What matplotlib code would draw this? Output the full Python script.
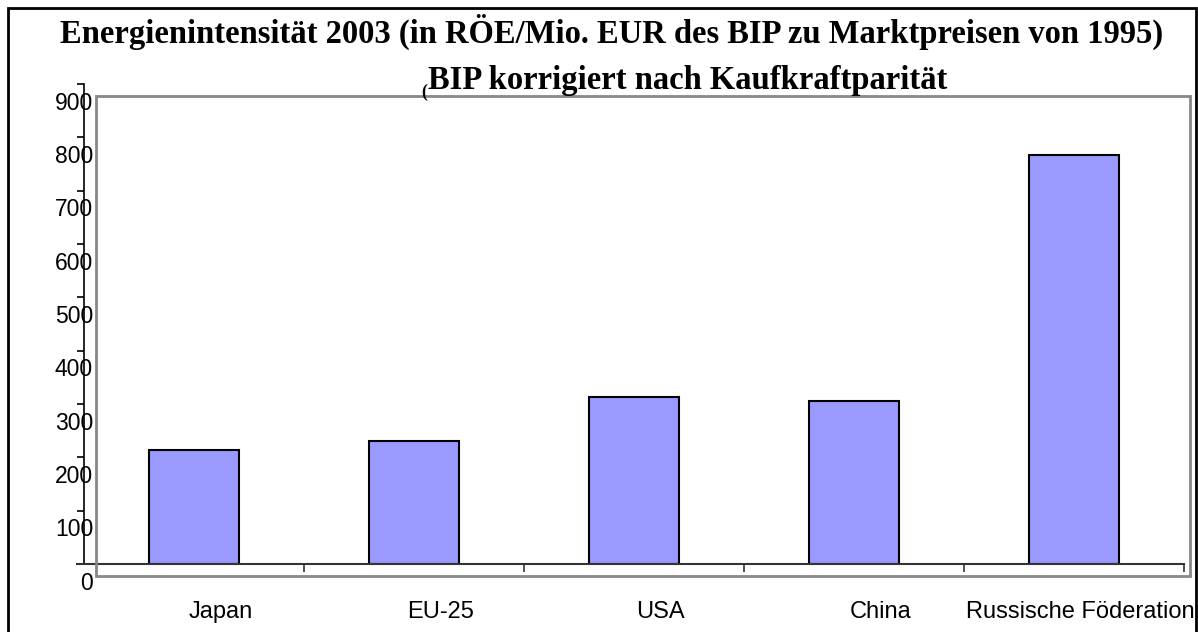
import matplotlib
matplotlib.use("Agg")
import matplotlib.pyplot as plt
from matplotlib.patches import Rectangle
from matplotlib.transforms import ScaledTranslation

# data
countries = ["Japan", "EU-25", "USA", "China", "Russische Föderation"]
intensity = [214, 231, 313, 306, 766]
yticks = [0, 100, 200, 300, 400, 500, 600, 700, 800, 900]

W, H = 1198, 632
fig = plt.figure(figsize=(W / 100, H / 100), dpi=100)

def fx(px):
    return px / W

def fy(py):
    return 1 - py / H

# outer frame and grey plot box
fig.patches.append(Rectangle((fx(8), fy(650)), fx(1196) - fx(8), fy(8) - fy(650),
                             transform=fig.transFigure, fill=False,
                             edgecolor="black", lw=2, zorder=0))
fig.patches.append(Rectangle((fx(96), fy(576)), fx(1190) - fx(96), fy(96) - fy(576),
                             transform=fig.transFigure, fill=False,
                             edgecolor="#888888", lw=2, zorder=0))

ax = fig.add_axes([fx(84), fy(564), fx(1184) - fx(84), fy(84) - fy(564)])
ax.patch.set_alpha(0)

pos = range(len(countries))
ax.bar([p + 0.5 for p in pos], intensity, width=0.405, color="#9999ff",
       edgecolor="black", linewidth=1.5, zorder=3)

ax.set_xlim(0, len(countries))
ax.set_ylim(0, 900)

for s in ["top", "right", "bottom"]:
    ax.spines[s].set_visible(False)
ax.spines["left"].set_linewidth(1.2)

# x axis line starting a little left of the y axis
ax.plot([-0.032, len(countries)], [0, 0], color="#333333", lw=1.5,
        clip_on=False, zorder=4)

ax.set_xticks(range(1, len(countries) + 1))
ax.set_xticklabels([])
ax.tick_params(axis="x", direction="out", length=6, width=1.2, color="#333333")

ax.set_yticks(yticks)
ax.set_yticklabels([str(v) for v in yticks], fontsize=16.5, family="Liberation Sans")
ax.tick_params(axis="y", direction="out", length=5, width=1.2, pad=-11.5)
off = ScaledTranslation(0, -0.165, fig.dpi_scale_trans)
for lab in ax.get_yticklabels():
    lab.set_transform(lab.get_transform() + off)

for p, name in zip(pos, countries):
    if p == len(countries) - 1:
        ax.text(5.05, -90, name, ha="right", va="center", fontsize=17,
                family="Liberation Sans", clip_on=False)
    else:
        ax.text(p + 0.62, -90, name, ha="center", va="center", fontsize=17,
                family="Liberation Sans", clip_on=False)

# title
t1 = fig.text(fx(612), fy(32), "Energienintensität 2003 (in RÖE/Mio. EUR des BIP zu Marktpreisen von 1995)",
              ha="center", va="center", fontsize=20, fontweight="bold",
              family="Liberation Serif")
t2 = fig.text(fx(688), fy(80), "BIP korrigiert nach Kaufkraftparität",
              ha="center", va="center", fontsize=20, fontweight="bold",
              family="Liberation Serif")
fig.text(fx(424), fy(92), "(", ha="center", va="center", fontsize=13,
         fontweight="bold", family="Liberation Serif")

fig.canvas.draw()
w = t1.get_window_extent().width
size = 20 * 1105 / w
t1.set_fontsize(size)
t2.set_fontsize(size)

fig.savefig("out.png", dpi=100)
